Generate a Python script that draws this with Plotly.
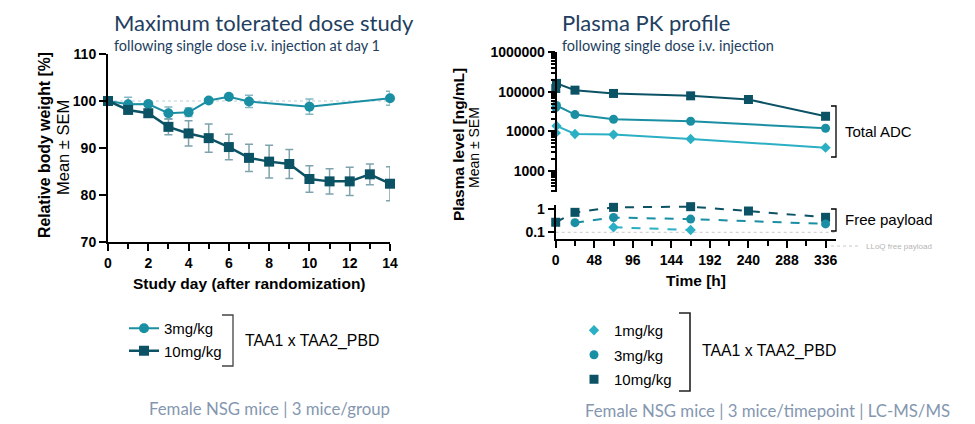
import plotly.graph_objects as go

# ---------------- data ----------------
# Maximum tolerated dose study (relative body weight, %)
mtd_days_3 = [0, 1, 2, 3, 4, 5, 6, 7, 10, 14]
mtd_bw_3 = [100, 99.3, 99.35, 97.4, 97.6, 100.1, 100.9, 99.9, 98.8, 100.6]
mtd_sem_3 = [0.2, 1.5, 0.4, 1.3, 0.9, 0.3, 0.3, 1.3, 1.6, 1.5]

mtd_days_10 = [0, 1, 2, 3, 4, 5, 6, 7, 8, 9, 10, 11, 12, 13, 14]
mtd_bw_10 = [100, 98.1, 97.4, 94.5, 93.1, 92.1, 90.2, 87.9, 87.1, 86.6, 83.4, 82.9, 82.9, 84.4, 82.4]
mtd_sem_10 = [0.2, 0.4, 0.4, 1.7, 2.7, 3.0, 2.7, 2.9, 3.5, 3.1, 2.8, 2.7, 3.0, 2.2, 3.6]

# Plasma PK profile (ng/mL) -- total ADC
pk_time = [0.083, 1, 24, 72, 168, 240, 336]
adc_1 = [9100, 13700, 8560, 8230, 6380, None, 3850]
adc_3 = [40000, 45000, 26500, 20200, 17900, None, 11900]
adc_10 = [121000, 163000, 110000, 90700, 79000, 63800, 24000]

# free payload (ng/mL)
fp_time = [0, 24, 72, 168, 240, 336]
fp_1 = [None, None, 0.164, 0.126, None, None]
fp_3 = [None, 0.26, 0.43, 0.37, None, 0.23]
fp_10 = [0.27, 0.72, 1.18, 1.26, 0.82, 0.44]
lloq = 0.1

dose_labels_mtd = ["3mg/kg", "10mg/kg"]
dose_labels_pk = ["1mg/kg", "3mg/kg", "10mg/kg"]

# ---------------- style ----------------
W, H = 975, 424
C1 = "#2aafc4"
C3 = "#1a8fa3"
C10 = "#0c5265"
ERR3 = "#86b8c3"
ERR10 = "#7fa3ae"
TITLE_C = "#233e5e"
FOOT_C = "#8597b0"


def px(x):
    return x / W


def py(y):
    return 1 - y / H


fig = go.Figure()

# ---- left: MTD ----
fig.add_trace(go.Scatter(
    x=mtd_days_3, y=mtd_bw_3, mode="lines+markers", name=dose_labels_mtd[0],
    line=dict(color=C3, width=2), marker=dict(symbol="circle", size=10, color=C3),
    error_y=dict(type="data", array=mtd_sem_3, color=ERR3, thickness=1.5, width=4),
    xaxis="x", yaxis="y", cliponaxis=False, legend="legend", legendgroup="a"))
fig.add_trace(go.Scatter(
    x=mtd_days_10, y=mtd_bw_10, mode="lines+markers", name=dose_labels_mtd[1],
    line=dict(color=C10, width=2.5), marker=dict(symbol="square", size=10, color=C10),
    error_y=dict(type="data", array=mtd_sem_10, color=ERR10, thickness=1.5, width=4),
    xaxis="x", yaxis="y", cliponaxis=False, legend="legend", legendgroup="b"))

# ---- right: PK total ADC (top panel) ----
for yv, c, sym, sz in [(adc_10, C10, "square", 9), (adc_3, C3, "circle", 9), (adc_1, C1, "diamond", 8)]:
    fig.add_trace(go.Scatter(
        x=pk_time, y=yv, mode="lines+markers", connectgaps=True, showlegend=False,
        line=dict(color=c, width=2), marker=dict(symbol=sym, size=sz, color=c),
        xaxis="x3", yaxis="y3", cliponaxis=False))

# ---- right: free payload (bottom panel) ----
fig.add_trace(go.Scatter(
    x=[fp_time[0], fp_time[-1] + 13], y=[lloq, lloq], mode="lines", name="LLoQ free payload",
    line=dict(color="#c8c8c8", width=1, dash="dot"), xaxis="x2", yaxis="y2",
    legend="legend3", cliponaxis=False))
for yv, c, sym, sz in [(fp_10, C10, "square", 9), (fp_3, C3, "circle", 9), (fp_1, C1, "diamond", 8)]:
    fig.add_trace(go.Scatter(
        x=fp_time, y=yv, mode="lines+markers", connectgaps=True, showlegend=False,
        line=dict(color=c, width=2, dash="dash"), marker=dict(symbol=sym, size=sz, color=c),
        xaxis="x2", yaxis="y2", cliponaxis=False))

# legend entries for PK (markers only)
for i, (c, sym, sz) in enumerate([(C1, "diamond", 8), (C3, "circle", 9), (C10, "square", 9)]):
    fig.add_trace(go.Scatter(
        x=[None], y=[None], mode="markers", name=dose_labels_pk[i],
        marker=dict(symbol=sym, size=sz, color=c), xaxis="x2", yaxis="y2",
        legend="legend2", legendgroup="p%d" % i))

axis_common = dict(showline=True, linecolor="black", linewidth=2, ticks="outside",
                   tickcolor="black", tickwidth=2, showgrid=False, zeroline=False,
                   automargin=False,
                   tickfont=dict(family="Arial", size=14, color="black", weight="bold"))

minor_log = [k * 10 ** e for e in range(2, 6) for k in range(2, 10) if k * 10 ** e >= 300]

fig.update_layout(
    width=W, height=H, margin=dict(l=0, r=0, t=0, b=0, autoexpand=False),
    paper_bgcolor="white", plot_bgcolor="white",
    xaxis=dict(domain=[px(108), px(390)], range=[0, 14], anchor="y", tickvals=list(range(0, 15, 2)),
               ticklen=7, minor=dict(tickvals=list(range(1, 14, 2)), ticks="outside", ticklen=5,
                                     tickwidth=2, tickcolor="black"),
               **axis_common),
    yaxis=dict(domain=[py(242), py(54)], range=[70, 110], anchor="x", tickvals=[70, 80, 90, 100, 110],
               ticklen=7, **axis_common),
    xaxis2=dict(domain=[px(555.7), px(836)], range=[0, 349], anchor="y2",
                tickvals=list(range(0, 337, 48)), ticklen=7,
                minor=dict(tickvals=list(range(24, 337, 48)), ticks="outside", ticklen=5,
                           tickwidth=2, tickcolor="black"),
                **axis_common),
    yaxis2=dict(domain=[py(239.3), py(204.7)], type="log", range=[-1.30, 0.185], anchor="x2",
                tickvals=[0.1, 1], ticktext=["0.1", "1"], ticklen=6, **axis_common),
    xaxis3=dict(domain=[px(555.7), px(836)], range=[0, 349], anchor="y3", matches="x2",
                visible=False),
    yaxis3=dict(domain=[py(191.7), py(52.3)], type="log", range=[2.47, 6.0], anchor="free",
                position=px(555.7), tickvals=[1000, 10000, 100000, 1000000],
                ticktext=["1000", "10000", "100000", "1000000"], ticklen=7,
                minor=dict(tickvals=minor_log, ticks="outside", ticklen=4, tickwidth=1.5,
                           tickcolor="black"),
                **axis_common),
    legend=dict(x=px(124), y=py(312), xanchor="left", yanchor="top", bgcolor="rgba(0,0,0,0)",
                font=dict(family="Arial", size=15, color="black"), tracegroupgap=0,
                itemwidth=30),
    legend2=dict(x=px(574), y=py(314), xanchor="left", yanchor="top", bgcolor="rgba(0,0,0,0)",
                 font=dict(family="Arial", size=15, color="black"), tracegroupgap=2,
                 itemwidth=30),
    legend3=dict(x=px(826), y=py(246), xanchor="left", yanchor="middle", bgcolor="rgba(0,0,0,0)",
                 font=dict(family="Arial", size=8, color="#b5b5b5"), itemwidth=30),
    showlegend=True,
)

# reference line at 100 %
fig.add_shape(type="line", xref="x", yref="y", x0=0, x1=14, y0=100, y1=100,
              line=dict(color="#b7cfd6", width=1, dash="dot"), layer="below")

ann = []
# titles
ann.append(dict(x=px(112), y=py(22), text="Maximum tolerated dose study", font=dict(family="Lato", size=22, color=TITLE_C)))
ann.append(dict(x=px(112), y=py(45), text="following single dose i.v. injection at day 1", font=dict(family="Lato", size=14.5, color=TITLE_C)))
ann.append(dict(x=px(560), y=py(22), text="Plasma PK profile", font=dict(family="Lato", size=22, color=TITLE_C)))
ann.append(dict(x=px(560), y=py(45), text="following single dose i.v. injection", font=dict(family="Lato", size=14.5, color=TITLE_C)))
for a in ann:
    a.update(xref="paper", yref="paper", xanchor="left", yanchor="middle", showarrow=False)

more = [
    # axis titles
    dict(x=px(249), y=py(283), text="<b>Study day (after randomization)</b>", font=dict(family="Arial", size=15.5, color="black")),
    dict(x=px(696), y=py(280), text="<b>Time [h]</b>", font=dict(family="Arial", size=15.5, color="black")),
    dict(x=px(44), y=py(145), text="<b>Relative body weight [%]</b>", textangle=-90, font=dict(family="Arial", size=15.8, color="black")),
    dict(x=px(63), y=py(148), text="Mean ± SEM", textangle=-90, font=dict(family="Arial", size=16.5, color="black")),
    dict(x=px(458), y=py(145), text="<b>Plasma level [ng/mL]</b>", textangle=-90, font=dict(family="Arial", size=15.4, color="black")),
    dict(x=px(474), y=py(148), text="Mean ± SEM", textangle=-90, font=dict(family="Arial", size=14, color="black")),
    # group labels
    dict(x=px(843), y=py(131), text="Total ADC", xanchor="left", font=dict(family="Arial", size=15, color="black")),
    dict(x=px(843), y=py(219), text="Free payload", xanchor="left", font=dict(family="Arial", size=15, color="black")),
    dict(x=px(243), y=py(341), text="TAA1 x TAA2_PBD", xanchor="left", font=dict(family="Arial", size=15.8, color="black")),
    dict(x=px(700), y=py(351), text="TAA1 x TAA2_PBD", xanchor="left", font=dict(family="Arial", size=15.8, color="black")),
    # footnotes
    dict(x=px(147), y=py(408), text="Female NSG mice | 3 mice/group", xanchor="left", font=dict(family="Lato", size=16.8, color=FOOT_C)),
    dict(x=px(583), y=py(410), text="Female NSG mice | 3 mice/timepoint | LC-MS/MS", xanchor="left", font=dict(family="Lato", size=16.8, color=FOOT_C)),
]
for a in more:
    a.setdefault("xanchor", "center")
    a.update(xref="paper", yref="paper", yanchor="middle", showarrow=False)
    ann.append(a)
fig.update_layout(annotations=ann)


def bracket(x0, x1, y0, y1, color="black", w=1.3):
    fig.add_shape(type="path", xref="paper", yref="paper",
                  path="M %f,%f L %f,%f L %f,%f L %f,%f" % (px(x0), py(y0), px(x1), py(y0), px(x1), py(y1), px(x0), py(y1)),
                  line=dict(color=color, width=w))


bracket(831, 836, 106, 157)
bracket(831, 836, 209, 231)
bracket(222, 233, 315, 366, color="#444444")
bracket(679, 690, 313, 391, color="#222222", w=1.6)

fig.write_html("out.html", config={"displayModeBar": False},
               post_script="document.body.style.margin='0';document.body.style.overflow='hidden';")
